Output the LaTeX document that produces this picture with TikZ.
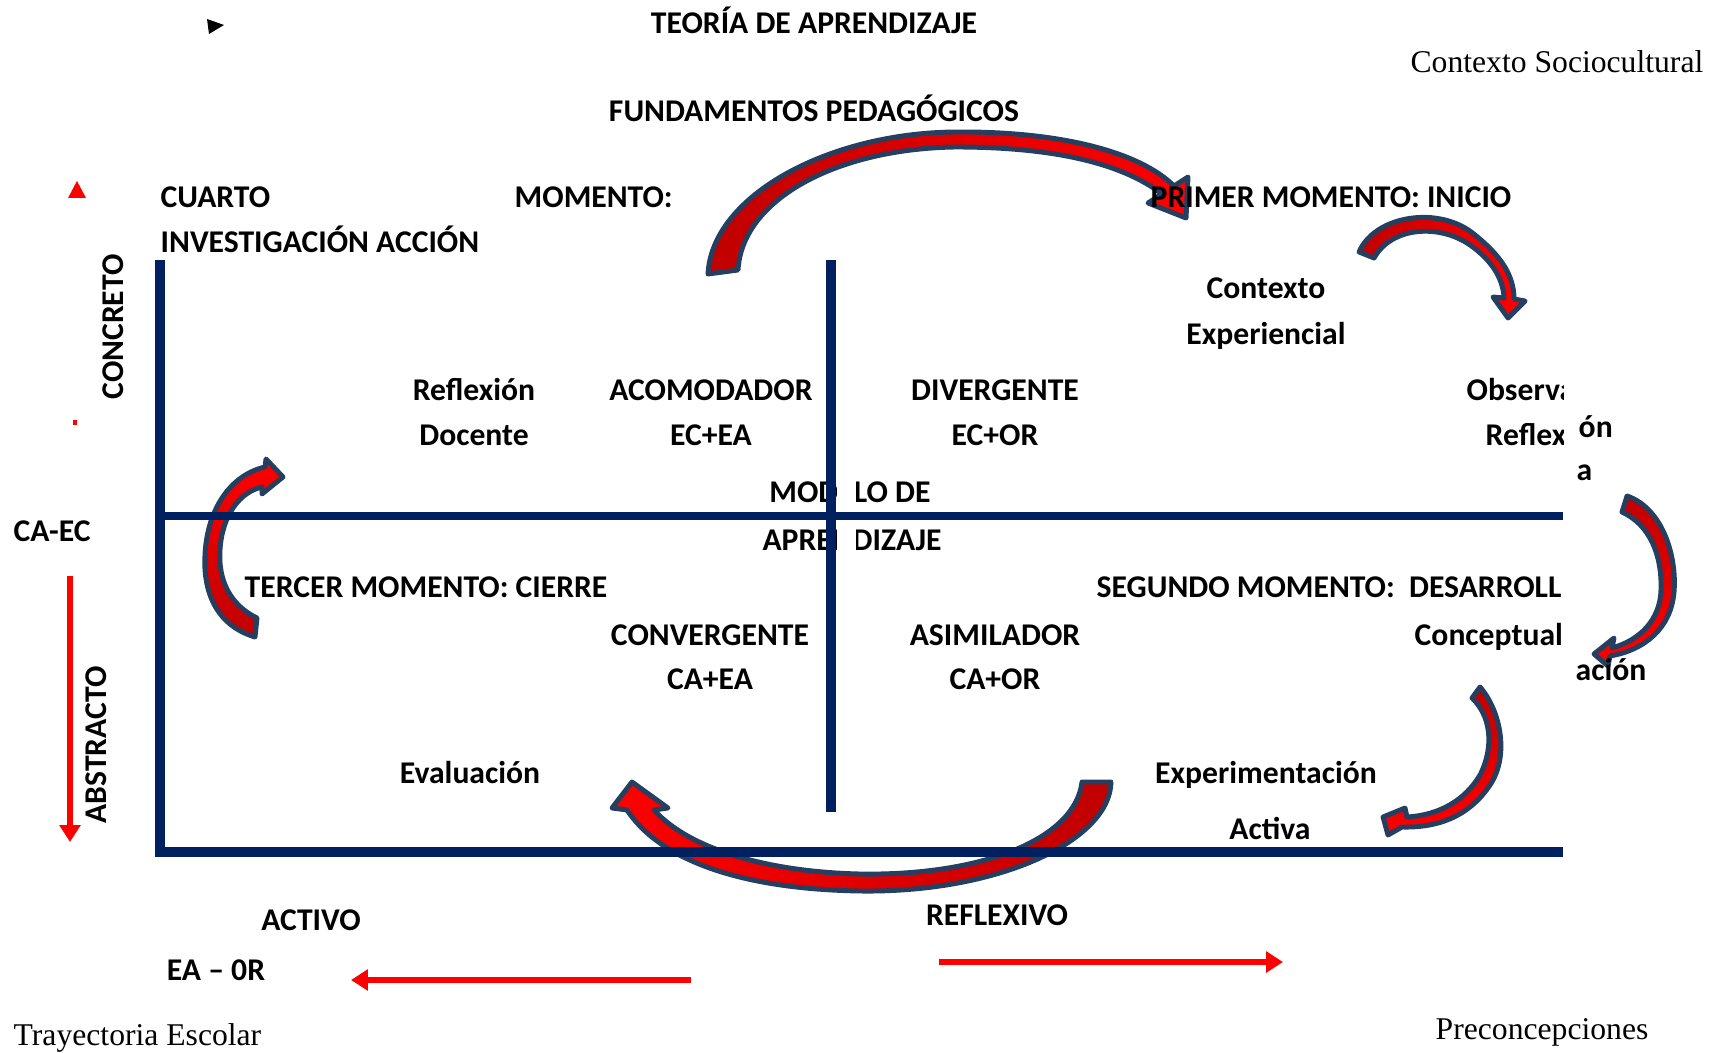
\documentclass[tikz,border=0pt]{standalone}
\usepackage{fontspec}
\setmainfont{Carlito}
\newfontfamily\timesfont{Liberation Serif}
\usetikzlibrary{arrows.meta}

\definecolor{navy}{HTML}{002060}
\definecolor{arrowline}{HTML}{243F60}
\definecolor{redtail}{HTML}{C00000}
\definecolor{redhead}{HTML}{FF0000}

\begin{document}
\begin{tikzpicture}[x=0.01cm, y=-0.01cm,
  font=\fontsize{9}{11}\selectfont\bfseries,
  lbl/.style={inner sep=0pt, anchor=base},
  lblw/.style={inner sep=0pt, anchor=base west},
  serif/.style={inner sep=0pt, font=\fontsize{9}{11}\selectfont\timesfont},
  axisline/.style={navy, line width=3.1pt},
  midline/.style={navy, line width=2.3pt},
  redarrow/.style={redhead, line width=1.7pt, -{Triangle[length=4.8pt, width=5.8pt]}},
  blockarrow/.style={draw=arrowline, line width=1.4pt, line join=round,
    top color=redtail, bottom color=redhead, shading angle=#1}]
   \useasboundingbox (0,0) rectangle (1710,1052);

   % curved block arrows
   \path[blockarrow=90] (708,274) .. controls (712,195) and (830,133) .. (955,132)
     .. controls (1060,131) and (1140,152) .. (1174,186) -- (1188,177) -- (1186,218)
     -- (1148,203) -- (1162,194) .. controls (1120,162) and (1050,147) .. (955,147)
     .. controls (835,149) and (742,200) .. (738,270) -- cycle;
   \path[blockarrow=90] (1359,252) .. controls (1375,215) and (1440,205) .. (1475,235)
     .. controls (1500,255) and (1514,275) .. (1514,299) -- (1525,301) -- (1508,318)
     -- (1493,297) -- (1504,298) .. controls (1503,277) and (1490,259) .. (1470,245)
     .. controls (1440,224) and (1392,226) .. (1374,258) -- cycle;
   \path[blockarrow=0] (1627,496) .. controls (1662,508) and (1677,555) .. (1674,592)
     .. controls (1671,628) and (1645,650) .. (1610,656) -- (1608,666) -- (1594,654)
     -- (1614,638) -- (1612,648) .. controls (1640,640) and (1660,620) .. (1661,590)
     .. controls (1662,555) and (1650,525) .. (1622,512) -- cycle;
   \path[blockarrow=0] (1480,687) .. controls (1500,710) and (1510,755) .. (1490,785)
     .. controls (1470,815) and (1440,828) .. (1402,827) -- (1388,835) -- (1383,817)
     -- (1405,808) -- (1407,817) .. controls (1440,815) and (1465,800) .. (1480,775)
     .. controls (1495,745) and (1490,715) .. (1472,698) -- cycle;
   \path[blockarrow=-90] (1111,782) .. controls (1110,840) and (1000,893) .. (860,891)
     .. controls (740,889) and (660,860) .. (627,810) -- (612,808) -- (632,782)
     -- (668,808) -- (654,810) .. controls (690,850) and (770,872) .. (860,874)
     .. controls (980,876) and (1075,840) .. (1082,782) -- cycle;
   \path[blockarrow=180] (255,637) .. controls (215,625) and (203,590) .. (205,555)
     .. controls (207,510) and (230,475) .. (265,467) -- (266,459) -- (283,477)
     -- (262,494) -- (262,487) .. controls (240,492) and (222,515) .. (220,550)
     .. controls (218,580) and (230,605) .. (257,618) -- cycle;

   % texts above the quadrants
   \node[lbl] (teoria) at (814,34) {TEORÍA DE APRENDIZAJE};
   \node[serif, anchor=base east] (socio) at (1704,73) {Contexto Sociocultural};
   \node[lbl] (fund) at (814,122) {FUNDAMENTOS PEDAGÓGICOS};
   \node[lblw] (cuarto) at (160,208) {CUARTO};
   \node[lblw] (momento) at (514,208) {MOMENTO:};
   \node[lblw] (invest) at (160,253) {INVESTIGACIÓN ACCIÓN};
   \node[lblw] (primer) at (1150,208) {PRIMER MOMENTO: INICIO};
   \node[lbl] (contexto) at (1266,298) {Contexto};
   \node[lbl] (experiencial) at (1266,344) {Experiencial};

   % quadrant labels
   \node[lbl] (reflexion) at (474,400) {Reflexión};
   \node[lbl] (docente) at (474,445) {Docente};
   \node[lbl] (acomodador) at (711,400) {ACOMODADOR};
   \node[lbl] (ecea) at (711,445) {EC+EA};
   \node[lbl] (divergente) at (995,400) {DIVERGENTE};
   \node[lbl] (ecor) at (995,445) {EC+OR};
   \node[lblw] (tercer) at (244,597) {TERCER MOMENTO: CIERRE};
   \node[lbl] (convergente) at (710,645) {CONVERGENTE};
   \node[lbl] (caea) at (710,689) {CA+EA};
   \node[lbl] (asimilador) at (995,645) {ASIMILADOR};
   \node[lbl] (caor) at (995,689) {CA+OR};
   \node[lbl] (evaluacion) at (470,783) {Evaluación};
   \node[lbl] (experimentacion) at (1266,783) {Experimentación};
   \node[lbl] (activa) at (1270,839) {Activa};

   % cut at the right edge
   \begin{scope}
     \clip (0,0) rectangle (1563,1052);
     \node[lblw] (observa) at (1466,400) {Observa};
     \node[lblw] (reflex) at (1485,445) {Reflex};
     \node[lblw] (segundo) at (1096,597) {SEGUNDO MOMENTO:\ \ DESARROLL};
     \node[lblw] (conceptual) at (1414,645) {Conceptual};
   \end{scope}
   \node[lblw] (on) at (1578,437) {ón};
   \node[lblw] (a) at (1576,480) {a};
   \node[lblw] (acion) at (1575,680) {ación};

   \node[lbl] (modelo) at (850,502) {MODELO DE};
   \node[lbl] (aprendizaje) at (852,550) {APRENDIZAJE};
   \fill[white] (837,470) rectangle (856,560);

   % axes
   \node[lbl, rotate=90] (concreto) at (123,327) {CONCRETO};
   \node[lbl, rotate=90] (abstracto) at (106,745) {ABSTRACTO};
   \node[lblw] (caec) at (13,541) {CA-EC};
   \node[lbl] (activo) at (311,930) {ACTIVO};
   \node[lbl] (eaor) at (216,980) {EA – 0R};
   \node[lbl] (reflexivo) at (997,925) {REFLEXIVO};
   \node[serif, anchor=base west] (trayectoria) at (13,1045) {Trayectoria Escolar};
   \node[serif, anchor=base] (preconcepciones) at (1542,1039) {Preconcepciones};

   \coordinate (tl) at (160,260);
   \coordinate (bl) at (160,852);
   \coordinate (br) at (1563,852);
   \coordinate (ml) at (160,516);
   \coordinate (mr) at (1563,516);
   \coordinate (ct) at (831,260);
   \coordinate (cb) at (831,812);
   \draw[axisline] (tl) -- (bl) -- (br);
   \draw[midline] (ml) -- (mr);
   \draw[axisline] (ct) -- (cb);

   % red arrows
   \coordinate (abs1) at (70,576);
   \coordinate (abs2) at (70,842);
   \coordinate (act1) at (691,980);
   \coordinate (act2) at (351,980);
   \coordinate (ref1) at (939,962);
   \coordinate (ref2) at (1283,962);
   \draw[redarrow] (abs1) -- (abs2);
   \draw[redarrow] (act1) -- (act2);
   \draw[redarrow] (ref1) -- (ref2);
   \fill[redhead] (68,198) -- (86,198) -- (77,181) -- cycle;
   \fill[redhead] (73,420) rectangle (77,425);
   \fill (207,19) -- (209,34) -- (224,25) -- cycle;
\end{tikzpicture}
\end{document}
